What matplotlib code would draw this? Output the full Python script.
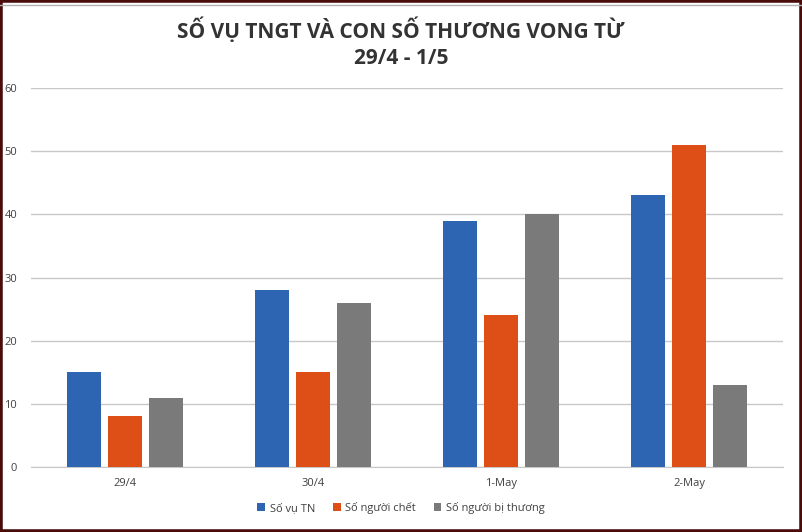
import numpy as np
import matplotlib.pyplot as plt
from matplotlib.patches import Rectangle

# data
categories = ['29/4', '30/4', '1-May', '2-May']
so_vu = [15, 28, 39, 43]
so_chet = [8, 15, 24, 51]
so_thuong = [11, 26, 40, 13]
series_names = ['Số vụ TN', 'Số người chết', 'Số người bị thương']
colors = ['#2E65B2', '#DE4E17', '#7A7A7A']

plt.rcParams['font.family'] = ['Open Sans', 'DejaVu Sans']

fig = plt.figure(figsize=(8.02, 5.32), dpi=100)
ax = fig.add_axes([31 / 802, 65 / 532, 752 / 802, 379 / 532])

x = np.arange(len(categories))
width = 0.176
step = 0.218
for i, (vals, name, c) in enumerate(zip([so_vu, so_chet, so_thuong], series_names, colors)):
    ax.bar(x + (i - 1) * step, vals, width, color=c, label=name, zorder=3)

ax.set_xlim(-0.5, len(categories) - 0.5)
ax.set_ylim(0, 60)
ax.set_yticks(range(0, 61, 10))
ax.set_xticks(x)
ax.set_xticklabels(categories)
ax.yaxis.grid(True, color='#C8C8C8', linewidth=1, zorder=0)
for s in ['top', 'right', 'left']:
    ax.spines[s].set_visible(False)
ax.spines['bottom'].set_color('#C8C8C8')
ax.tick_params(axis='both', length=0, labelsize=8, labelcolor='#404040')
ax.tick_params(axis='y', pad=10)
ax.tick_params(axis='x', pad=8)

fig.text(0.5, 1 - 30 / 532, 'SỐ VỤ TNGT VÀ CON SỐ THƯƠNG VONG TỪ', ha='center', va='center',
         fontsize=15, fontweight='bold', color='#333333')
fig.text(0.5, 1 - 58 / 532, '29/4 - 1/5', ha='center', va='center',
         fontsize=15, fontweight='bold', color='#333333')

fig.legend(loc='center', bbox_to_anchor=(0.5, 1 - 508 / 532), ncol=3, frameon=False,
           fontsize=8, handlelength=0.7, handleheight=0.7, columnspacing=1.6,
           handletextpad=0.4, labelcolor='#404040')

# dark frame round the picture
fig.patches.append(Rectangle((0, 0), 1, 1, transform=fig.transFigure, fill=False,
                             edgecolor='#4A0B0B', linewidth=4))
fig.add_artist(plt.Line2D([0, 1], [1 - 4.5 / 532] * 2, transform=fig.transFigure,
                          color='#B0B0B0', linewidth=1))

fig.savefig('out.png', dpi=100)
